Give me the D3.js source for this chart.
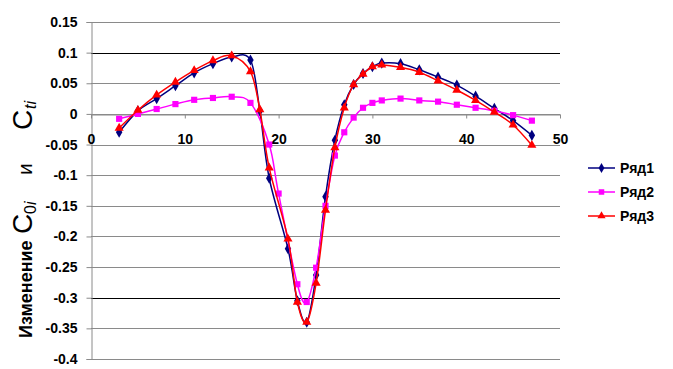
<!DOCTYPE html>
<html>
<head>
	<meta charset="utf-8">
	<title>Изменение C0i и Cti</title>
	<script type="text/javascript" src="https://cdn.jsdelivr.net/npm/d3@7"></script>
	<style>
		body {
			font-family: "Liberation Sans", Arial, sans-serif;
			margin: 0;
			background: #fff;
		}
	</style>
</head>

<body>

	<div id="chart"></div>

	<script>

		// data

		const x1 = [3, 5, 7, 9, 11, 13, 15, 17, 18, 19, 21, 22, 23, 24, 25, 26, 27, 28, 29, 30, 31, 33, 35, 37, 39, 41, 43, 45, 47];
		const y1 = [-0.030, 0.005, 0.025, 0.046, 0.067, 0.082, 0.093, 0.088, 0.005, -0.105, -0.220, -0.305, -0.340, -0.263, -0.135, -0.043, 0.015, 0.048, 0.066, 0.077, 0.083, 0.082, 0.072, 0.060, 0.047, 0.029, 0.009, -0.011, -0.035];

		const x2 = [3, 5, 7, 9, 11, 13, 15, 17, 19, 20, 22, 23, 24, 25, 26, 27, 28, 29, 30, 31, 33, 35, 37, 39, 41, 43, 45, 47];
		const y2 = [-0.008, 0.000, 0.008, 0.016, 0.023, 0.026, 0.028, 0.018, -0.050, -0.130, -0.278, -0.307, -0.251, -0.150, -0.068, -0.030, -0.006, 0.010, 0.018, 0.022, 0.025, 0.022, 0.020, 0.015, 0.010, 0.005, -0.002, -0.011];

		const x3 = [3, 5, 7, 9, 11, 13, 15, 17, 18, 19, 21, 22, 23, 24, 25, 26, 27, 28, 29, 30, 31, 33, 35, 37, 39, 41, 43, 45, 47];
		const y3 = [-0.023, 0.006, 0.031, 0.052, 0.071, 0.087, 0.095, 0.069, 0.007, -0.088, -0.204, -0.307, -0.340, -0.276, -0.157, -0.055, 0.010, 0.048, 0.065, 0.077, 0.080, 0.076, 0.068, 0.054, 0.039, 0.022, 0.003, -0.018, -0.051];

		const seriesNames = ["Ряд1", "Ряд2", "Ряд3"];
		const xTicks = [0, 10, 20, 30, 40, 50];
		const yTicks = [0.15, 0.1, 0.05, 0, -0.05, -0.1, -0.15, -0.2, -0.25, -0.3, -0.35, -0.4];

		// layout

		const width = 673;
		const height = 369;
		const plot = { left: 91, right: 560, top: 22, bottom: 359 };

		const series = [
			{ name: seriesNames[0], xs: x1, ys: y1, color: "#000080", symbol: d3.symbolDiamond, size: 36 },
			{ name: seriesNames[1], xs: x2, ys: y2, color: "#ff00ff", symbol: d3.symbolSquare, size: 38 },
			{ name: seriesNames[2], xs: x3, ys: y3, color: "#ff0000", symbol: d3.symbolTriangle, size: 36 },
		];

		const xScale = d3.scaleLinear([0, 50], [plot.left, plot.right]);
		const yScale = d3.scaleLinear([-0.4, 0.15], [plot.bottom, plot.top]);
		const fmt = d => String(+d.toFixed(2));

		const svg = d3.select("#chart")
			.append("svg")
			.attr("width", width)
			.attr("height", height)
			.attr("viewBox", [0, 0, width, height])
			.style("font-family", "'Liberation Sans', Arial, sans-serif");

		// gridlines (two of them look black in the picture)
		svg.append("g")
			.selectAll("line")
			.data(yTicks)
			.join("line")
			.attr("x1", plot.left)
			.attr("x2", plot.right)
			.attr("y1", d => Math.round(yScale(d)) + 0.5)
			.attr("y2", d => Math.round(yScale(d)) + 0.5)
			.attr("stroke", d => (d === 0.1 || d === -0.3) ? "#000" : "#8a8a8a")
			.attr("stroke-width", 1);

		// y axis
		svg.append("g")
			.attr("transform", `translate(${plot.left + 0.5},0)`)
			.call(d3.axisLeft(yScale).tickValues(yTicks).tickFormat(fmt).tickSize(5).tickPadding(9))
			.call(g => g.select(".domain").attr("stroke", "#8a8a8a"))
			.call(g => g.selectAll(".tick line").attr("stroke", "#8a8a8a"))
			.call(g => g.selectAll(".tick text")
				.attr("fill", "#000")
				.style("font-size", "14px")
				.style("font-weight", "bold"));

		// x axis at y = 0
		svg.append("g")
			.attr("transform", `translate(0,${Math.round(yScale(0)) + 0.5})`)
			.call(d3.axisBottom(xScale).tickValues(xTicks).tickFormat(fmt).tickSizeInner(4).tickSizeOuter(0).tickPadding(16))
			.call(g => g.select(".domain").attr("stroke", "#8a8a8a"))
			.call(g => g.selectAll(".tick line").attr("stroke", "#8a8a8a"))
			.call(g => g.selectAll(".tick text")
				.attr("fill", "#000")
				.style("font-size", "14px")
				.style("font-weight", "bold"));

		// lines and markers
		const line = d3.line()
			.curve(d3.curveCardinal.tension(0))
			.x(d => xScale(d[0]))
			.y(d => yScale(d[1]));

		series.forEach(s => {
			const pts = s.xs.map((x, i) => [x, s.ys[i]]);
			svg.append("path")
				.attr("fill", "none")
				.attr("stroke", s.color)
				.attr("stroke-width", 1.5)
				.attr("d", line(pts));
			svg.append("g")
				.selectAll("path")
				.data(pts)
				.join("path")
				.attr("transform", d => `translate(${xScale(d[0])},${yScale(d[1])})`)
				.attr("d", d3.symbol(s.symbol, s.size))
				.attr("fill", s.color);
		});

		// legend
		const legend = svg.append("g")
			.selectAll("g")
			.data(series)
			.join("g")
			.attr("transform", (d, i) => `translate(588,${168 + i * 24})`);
		legend.append("line")
			.attr("x1", 0).attr("x2", 27)
			.attr("stroke", d => d.color)
			.attr("stroke-width", 1.5);
		legend.append("path")
			.attr("transform", "translate(13.5,0)")
			.attr("d", d => d3.symbol(d.symbol, d.size * 0.8)())
			.attr("fill", d => d.color);
		legend.append("text")
			.attr("x", 32)
			.attr("dy", "0.36em")
			.style("font-size", "14px")
			.style("font-weight", "bold")
			.text(d => d.name);

		// y label: Изменение C0i и Cti (x runs upward after the rotation)
		const label = svg.append("text")
			.attr("transform", "translate(32,338) rotate(-90)")
			.attr("fill", "#000");
		label.append("tspan").attr("x", 0).style("font-size", "18px").style("font-weight", "bold").text("Изменение");
		label.append("tspan").attr("x", 104).style("font-size", "28px").text("C");
		label.append("tspan").attr("x", 124).attr("dy", 4).style("font-size", "16px").text("0");
		label.append("tspan").style("font-size", "16px").style("font-style", "italic").text("i");
		label.append("tspan").attr("x", 163).attr("dy", -4).style("font-size", "21px").text("и");
		label.append("tspan").attr("x", 208).style("font-size", "28px").text("C");
		label.append("tspan").attr("x", 229).attr("dy", 4).style("font-size", "16px").style("font-style", "italic").text("ti");

	</script>

</body>

</html>
